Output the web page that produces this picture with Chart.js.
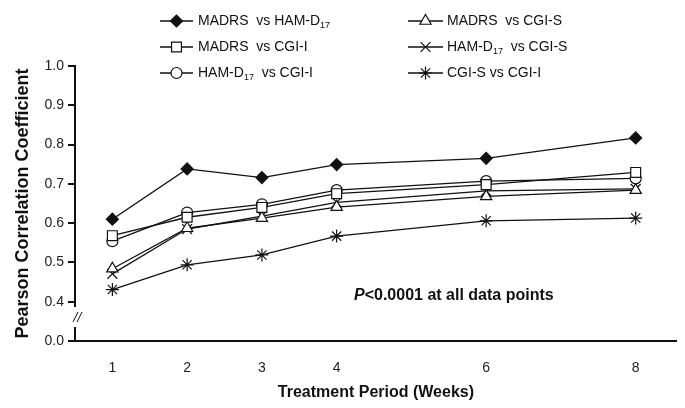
<!DOCTYPE html>
<html>
<head>
<meta charset="utf-8">
<script src="https://cdn.jsdelivr.net/npm/chart.js@4.4.1/dist/chart.umd.min.js"></script>
<style>
  body { margin: 0; background: #fff; }
  #wrap { width: 685px; height: 408px; }
</style>
</head>
<body>
<div id="wrap"><canvas id="grafico" width="685" height="408"></canvas></div>
<script>
// Semanas do tratamento
const semanas = [1, 2, 3, 4, 6, 8];

// Coeficientes
const madrsHamd = [0.610, 0.738, 0.716, 0.749, 0.765, 0.817];
const madrsCgiI = [0.568, 0.615, 0.640, 0.675, 0.698, 0.729];
const hamdCgiI  = [0.554, 0.627, 0.648, 0.684, 0.707, 0.714];
const madrsCgiS = [0.484, 0.587, 0.613, 0.641, 0.668, 0.684];
const hamdCgiS  = [0.471, 0.585, 0.618, 0.653, 0.682, 0.687];
const cgiSCgiI  = [0.431, 0.494, 0.519, 0.567, 0.606, 0.613];

// Rotulos (o "_17" vira indice)
const rotulos = [
  'MADRS  vs HAM-D_17',
  'MADRS  vs CGI-I',
  'HAM-D_17  vs CGI-I',
  'MADRS  vs CGI-S',
  'HAM-D_17  vs CGI-S',
  'CGI-S vs CGI-I'
];

// Eixo Y quebrado: 0.3 aparece como 0.0
const yTickValores = [0.3, 0.4, 0.5, 0.6, 0.7, 0.8, 0.9, 1.0];
const yTickRotulos = ['0.0', '0.4', '0.5', '0.6', '0.7', '0.8', '0.9', '1.0'];

const series = [madrsHamd, madrsCgiI, hamdCgiI, madrsCgiS, hamdCgiS, cgiSCgiI];
const marcadores = [
  { pointStyle: 'rectRot', radius: 6, fill: '#111' },
  { pointStyle: 'rect', radius: 7, fill: '#fff' },
  { pointStyle: 'circle', radius: 5.5, fill: '#fff' },
  { pointStyle: 'triangle', radius: 6.5, fill: '#fff' },
  { pointStyle: 'crossRot', radius: 7, fill: '#fff' },
  { pointStyle: 'star', radius: 6.5, fill: '#fff' }
];

const FONTE = '"Liberation Sans", Arial, sans-serif';
const COR = '#111';

function textoComIndice(ctx, texto, x, y, tam) {
  const partes = texto.split(/_(\d+)/);
  let px = x;
  partes.forEach((p, i) => {
    if (i % 2 === 1) {
      ctx.font = `${Math.round(tam * 0.65)}px ${FONTE}`;
      ctx.fillText(p, px, y + 5);
    } else {
      ctx.font = `${tam}px ${FONTE}`;
      ctx.fillText(p, px, y);
    }
    px += ctx.measureText(p).width;
  });
}

const extras = {
  id: 'extras',
  afterDraw(chart) {
    const ctx = chart.ctx;
    ctx.save();

    // quebra do eixo Y
    ctx.fillStyle = '#fff';
    ctx.fillRect(70, 307, 10, 20);
    ctx.strokeStyle = COR;
    ctx.lineWidth = 1;
    ctx.beginPath();
    ctx.moveTo(73, 322); ctx.lineTo(78, 312);
    ctx.moveTo(77, 322); ctx.lineTo(82, 312);
    ctx.stroke();

    // legenda
    const linhasY = [21, 47, 73];
    chart.data.datasets.forEach((ds, i) => {
      const col = i < 3 ? 0 : 1;
      const y = linhasY[i % 3];
      const x1 = col ? 408 : 160;
      const x2 = col ? 443 : 193;
      ctx.strokeStyle = COR;
      ctx.lineWidth = 1.3;
      ctx.beginPath();
      ctx.moveTo(x1, y); ctx.lineTo(x2, y);
      ctx.stroke();
      ctx.fillStyle = ds.pointBackgroundColor;
      ctx.strokeStyle = COR;
      ctx.lineWidth = 1.2;
      Chart.helpers.drawPoint(ctx, {
        pointStyle: ds.pointStyle, radius: ds.pointRadius, rotation: 0, borderWidth: 1.2
      }, (x1 + x2) / 2, y);
      ctx.fillStyle = COR;
      ctx.textBaseline = 'middle';
      ctx.textAlign = 'left';
      textoComIndice(ctx, ds.label, col ? 447 : 198, y, 14);
    });

    // nota de significancia
    ctx.fillStyle = COR;
    ctx.textBaseline = 'middle';
    ctx.font = `italic bold 16px ${FONTE}`;
    ctx.fillText('P', 354, 296);
    const w = ctx.measureText('P').width;
    ctx.font = `bold 16px ${FONTE}`;
    ctx.fillText('<0.0001 at all data points', 354 + w, 296);
    ctx.restore();
  }
};

window.addEventListener('DOMContentLoaded', () => {
  const ctx = document.getElementById('grafico').getContext('2d');
  new Chart(ctx, {
    type: 'line',
    data: {
      datasets: series.map((vals, i) => ({
        label: rotulos[i],
        data: vals.map((v, j) => ({ x: semanas[j], y: v })),
        borderColor: COR,
        borderWidth: 1.3,
        tension: 0,
        pointStyle: marcadores[i].pointStyle,
        pointRadius: marcadores[i].radius,
        pointBackgroundColor: marcadores[i].fill,
        pointBorderColor: COR,
        pointBorderWidth: 1.2
      }))
    },
    options: {
      responsive: false,
      animation: false,
      layout: { padding: { top: 66, right: 7, left: 0, bottom: 0 } },
      plugins: { legend: { display: false }, tooltip: { enabled: false } },
      scales: {
        x: {
          type: 'linear',
          min: 0.5,
          max: 8.55,
          afterBuildTicks: s => { s.ticks = semanas.map(v => ({ value: v })); },
          afterFit: s => { s.height = 67; },
          ticks: { color: '#222', font: { family: FONTE, size: 14 }, padding: 19 },
          grid: { display: true, drawOnChartArea: false, drawTicks: false },
          border: { color: COR, width: 2 },
          title: {
            display: true,
            text: 'Treatment Period (Weeks)',
            color: COR,
            font: { family: FONTE, size: 16, weight: 'bold' },
            padding: { top: 0, bottom: 6 }
          }
        },
        y: {
          min: 0.3,
          max: 1.0,
          afterBuildTicks: s => { s.ticks = yTickValores.map(v => ({ value: v })); },
          afterFit: s => { s.width = 75; },
          ticks: {
            color: '#222',
            font: { family: FONTE, size: 14 },
            padding: 4,
            callback: (v) => yTickRotulos[yTickValores.findIndex(t => Math.abs(t - v) < 1e-6)]
          },
          grid: { drawOnChartArea: false, drawTicks: true, tickLength: 7, color: COR, lineWidth: 2 },
          border: { color: COR, width: 2 },
          title: {
            display: true,
            text: 'Pearson Correlation Coefficient',
            color: COR,
            font: { family: FONTE, size: 18, weight: 'bold' },
            padding: { top: 12, bottom: 0 }
          }
        }
      }
    },
    plugins: [extras]
  });
});
</script>
</body>
</html>
